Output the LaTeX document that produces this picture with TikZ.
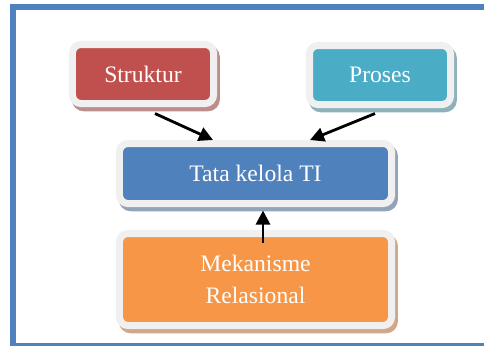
\documentclass[tikz,border=0pt]{standalone}
\usepackage{fontspec}
\setmainfont{Liberation Serif}
\usetikzlibrary{arrows.meta}

\definecolor{framblue}{HTML}{4F81BD}
\definecolor{boxrim}{HTML}{F0F0F0}
\definecolor{strukturred}{HTML}{C0504D}
\definecolor{strukturshade}{HTML}{BC8E8C}
\definecolor{prosesteal}{HTML}{4BACC6}
\definecolor{prosesshade}{HTML}{8FB2BA}
\definecolor{tatablue}{HTML}{4F81BD}
\definecolor{tatashade}{HTML}{94A4B8}
\definecolor{mekorange}{HTML}{F79646}
\definecolor{mekshade}{HTML}{D2A688}

\begin{document}
\begin{tikzpicture}[x=0.025cm, y=-0.025cm,
    box/.style={rectangle, draw=boxrim, line width=5pt, rounded corners=6pt, text=white, align=center, inner sep=0pt, font=\rmfamily\fontsize{16.8}{22.8}\selectfont},
    boxshade/.style={preaction={draw=#1, fill=#1, line width=5pt, transform canvas={shift={(2pt,-3pt)}}}},
    arrow/.style={-{Triangle[length=10pt, width=10pt]}, line width=2pt, black}]
            \useasboundingbox (0,0) rectangle (484,345);
            \clip (0,0) rectangle (484,345);
            % Frame
            \draw [framblue, line width=4.3pt] (13,7) rectangle (520,346.5);

            % Define blocks
            \node [box, boxshade=strukturshade, fill=strukturred, minimum width=3.525cm, minimum height=1.475cm] (struktur) at (143,74) {Struktur};
            \node [box, boxshade=prosesshade, fill=prosesteal, minimum width=3.525cm, minimum height=1.475cm] (proses) at (380,75) {Proses};
            \node [box, boxshade=tatashade, fill=tatablue, minimum width=6.8cm, minimum height=1.5cm] (tata) at (255.5,173.5) {Tata kelola TI};
            \node [box, boxshade=mekshade, fill=mekorange, minimum width=6.8cm, minimum height=2.3cm] (mek) at (255.5,279.5) {Mekanisme\\Relasional};

            % Define arrows
            \draw [arrow] ([shift={(12,6.5)}]struktur.south) -- ([shift={(-42.5,0)}]tata.north);
            \draw [arrow] ([shift={(-5,5.5)}]proses.south) -- ([shift={(54.5,0)}]tata.north);
            \draw [arrow] ([shift={(7.5,13.5)}]mek.north) -- ([shift={(7.5,3.5)}]tata.south);
\end{tikzpicture}
\end{document}
